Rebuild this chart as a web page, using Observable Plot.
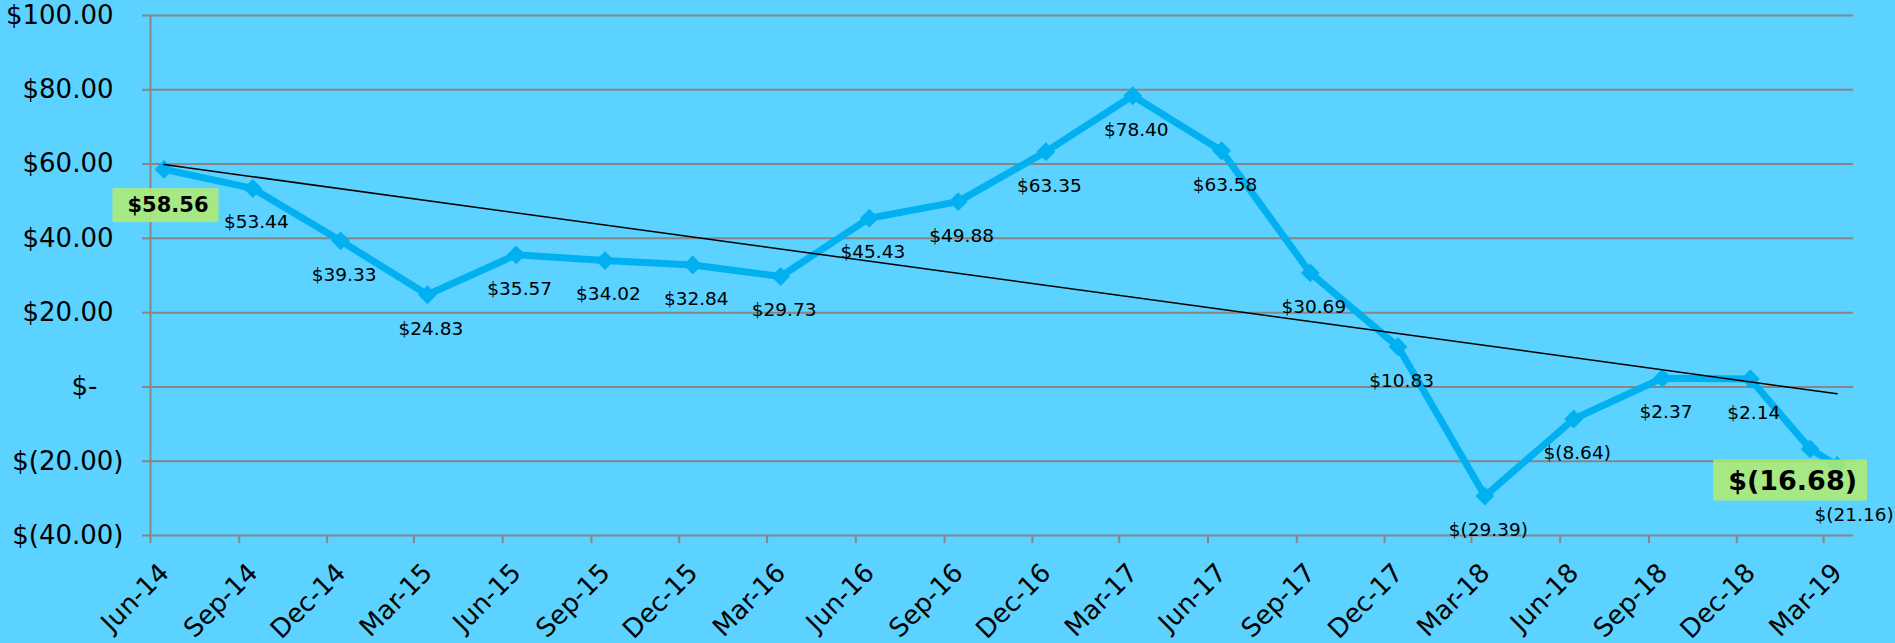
<!DOCTYPE html>
<html>
<head>
<meta charset="utf-8">
<script src="https://cdn.jsdelivr.net/npm/d3@7"></script>
<script src="https://cdn.jsdelivr.net/npm/@observablehq/plot@0.6"></script>
<style>
  html, body { margin: 0; padding: 0; background: #5BD2FF; overflow: hidden; }
  #chart svg { display: block; }
</style>
</head>
<body>
<div id="chart"></div>
<script>
// ---- data ----
const dates = ["2014-06-15","2014-09-15","2014-12-15","2015-03-15","2015-06-15","2015-09-15",
  "2015-12-15","2016-03-15","2016-06-15","2016-09-15","2016-12-15","2017-03-15","2017-06-15",
  "2017-09-15","2017-12-15","2018-03-15","2018-06-15","2018-09-15","2018-12-15","2019-02-15","2019-03-15"];
const values = [58.56, 53.44, 39.33, 24.83, 35.57, 34.02, 32.84, 29.73, 45.43, 49.88, 63.35,
  78.40, 63.58, 30.69, 10.83, -29.39, -8.64, 2.37, 2.14, -16.68, -21.16];
const tickLabels = ["Jun-14","Sep-14","Dec-14","Mar-15","Jun-15","Sep-15","Dec-15","Mar-16",
  "Jun-16","Sep-16","Dec-16","Mar-17","Jun-17","Sep-17","Dec-17","Mar-18","Jun-18","Sep-18",
  "Dec-18","Mar-19"];
const yTicks = [100, 80, 60, 40, 20, 0, -20, -40];
const xRange = ["2014-06-01", "2019-04-01"];
const highlighted = ["2014-06-15", "2019-02-15"];

// ---- layout / style ----
const BG = "#5BD2FF", LINE = "#00B0F0", GRID = "#868686";
// label offsets (px) for labels that Excel placed away from the default "below" position
const labelNudge = new Map([
  ["2014-06-15", {dx: 4, dy: 36, size: 21}],
  ["2019-02-15", {dx: -17.5, dy: 32, size: 27}],
  ["2019-03-15", {dx: 17, dy: 50, size: 18.5}]
]);

const parseDay = d3.utcParse("%Y-%m-%d");
const parseTick = d3.utcParse("%b-%y");
const data = dates.map((d, i) => ({key: d, date: parseDay(d), value: values[i]}));
const tickDates = tickLabels.map(parseTick);
const labelByTime = new Map(tickDates.map((d, i) => [+d, tickLabels[i]]));
const f2 = d3.format(",.2f");
const acct = v => v === 0 ? "$-" : v > 0 ? "$" + f2(v) : "$(" + f2(-v) + ")";

const normal = data.filter(d => !labelNudge.has(d.key));
const special = data.filter(d => labelNudge.has(d.key));

const specialMarks = special.map(d => {
  const n = labelNudge.get(d.key);
  const hl = highlighted.includes(d.key);
  return Plot.text([d], {
    x: "date", y: "value", text: d => acct(d.value),
    dx: n.dx, dy: n.dy, fontSize: n.size, fill: "#000",
    fontWeight: hl ? "bold" : "normal"
  });
});

const yAxisCommon = {tickSize: 8, tickFormat: acct, stroke: GRID, strokeWidth: 2, fontSize: 26,
  fill: "#000", label: null};

const chart = Plot.plot({
  width: 1895,
  height: 643,
  marginLeft: 150,
  marginRight: 42,
  marginTop: 15,
  marginBottom: 108,
  style: {background: BG, fontFamily: "DejaVu Sans", fontSize: "26px", color: "#000", overflow: "visible"},
  x: {type: "utc", domain: xRange.map(parseDay), label: null},
  y: {domain: [-40, 100], label: null},
  marks: [
    Plot.gridY(yTicks, {stroke: GRID, strokeOpacity: 1, strokeWidth: 2}),
    Plot.ruleX([parseDay(xRange[0])], {stroke: GRID, strokeWidth: 2}),
    Plot.axisY(yTicks.filter(v => v > 0), {...yAxisCommon, tickPadding: 29}),
    Plot.axisY(yTicks.filter(v => v === 0), {...yAxisCommon, tickPadding: 45}),
    Plot.axisY(yTicks.filter(v => v < 0), {...yAxisCommon, tickPadding: 19}),
    Plot.axisX(tickDates, {tickSize: 8, stroke: GRID, strokeWidth: 2, tickFormat: () => "", label: null}),
    Plot.axisX(tickDates, {tickSize: 0, tickPadding: 33, tickRotate: -45, dx: 14, label: null,
      tickFormat: d => labelByTime.get(+d), fontSize: 26, fill: "#000"}),
    Plot.line(data, {x: "date", y: "value", stroke: LINE, strokeWidth: 7, strokeLinejoin: "round"}),
    Plot.dot(data, {x: "date", y: "value", symbol: "diamond2", r: 8.5, fill: LINE, stroke: "none"}),
    Plot.linearRegressionY(data, {x: "date", y: "value", ci: 0, stroke: "#000", strokeWidth: 1.5}),
    Plot.text(normal, {x: "date", y: "value", text: d => acct(d.value), dx: 3.5, dy: 34,
      fontSize: 18.5, fill: "#000"}),
    ...specialMarks
  ]
});

document.getElementById("chart").appendChild(chart);

// green highlight boxes behind the bold labels
const pad = {top: 5, right: 10, bottom: 5, left: 15};
chart.querySelectorAll('g[font-weight="bold"] text').forEach(t => {
  const bb = t.getBBox();
  const r = document.createElementNS("http://www.w3.org/2000/svg", "rect");
  r.setAttribute("x", bb.x - pad.left);
  r.setAttribute("y", bb.y - pad.top);
  r.setAttribute("width", bb.width + pad.left + pad.right);
  r.setAttribute("height", bb.height + pad.top + pad.bottom);
  r.setAttribute("fill", "#B4EC6E");
  r.setAttribute("fill-opacity", "0.85");
  r.setAttribute("stroke", "none");
  if (t.getAttribute("transform")) r.setAttribute("transform", t.getAttribute("transform"));
  t.parentNode.insertBefore(r, t);
});
</script>
</body>
</html>
